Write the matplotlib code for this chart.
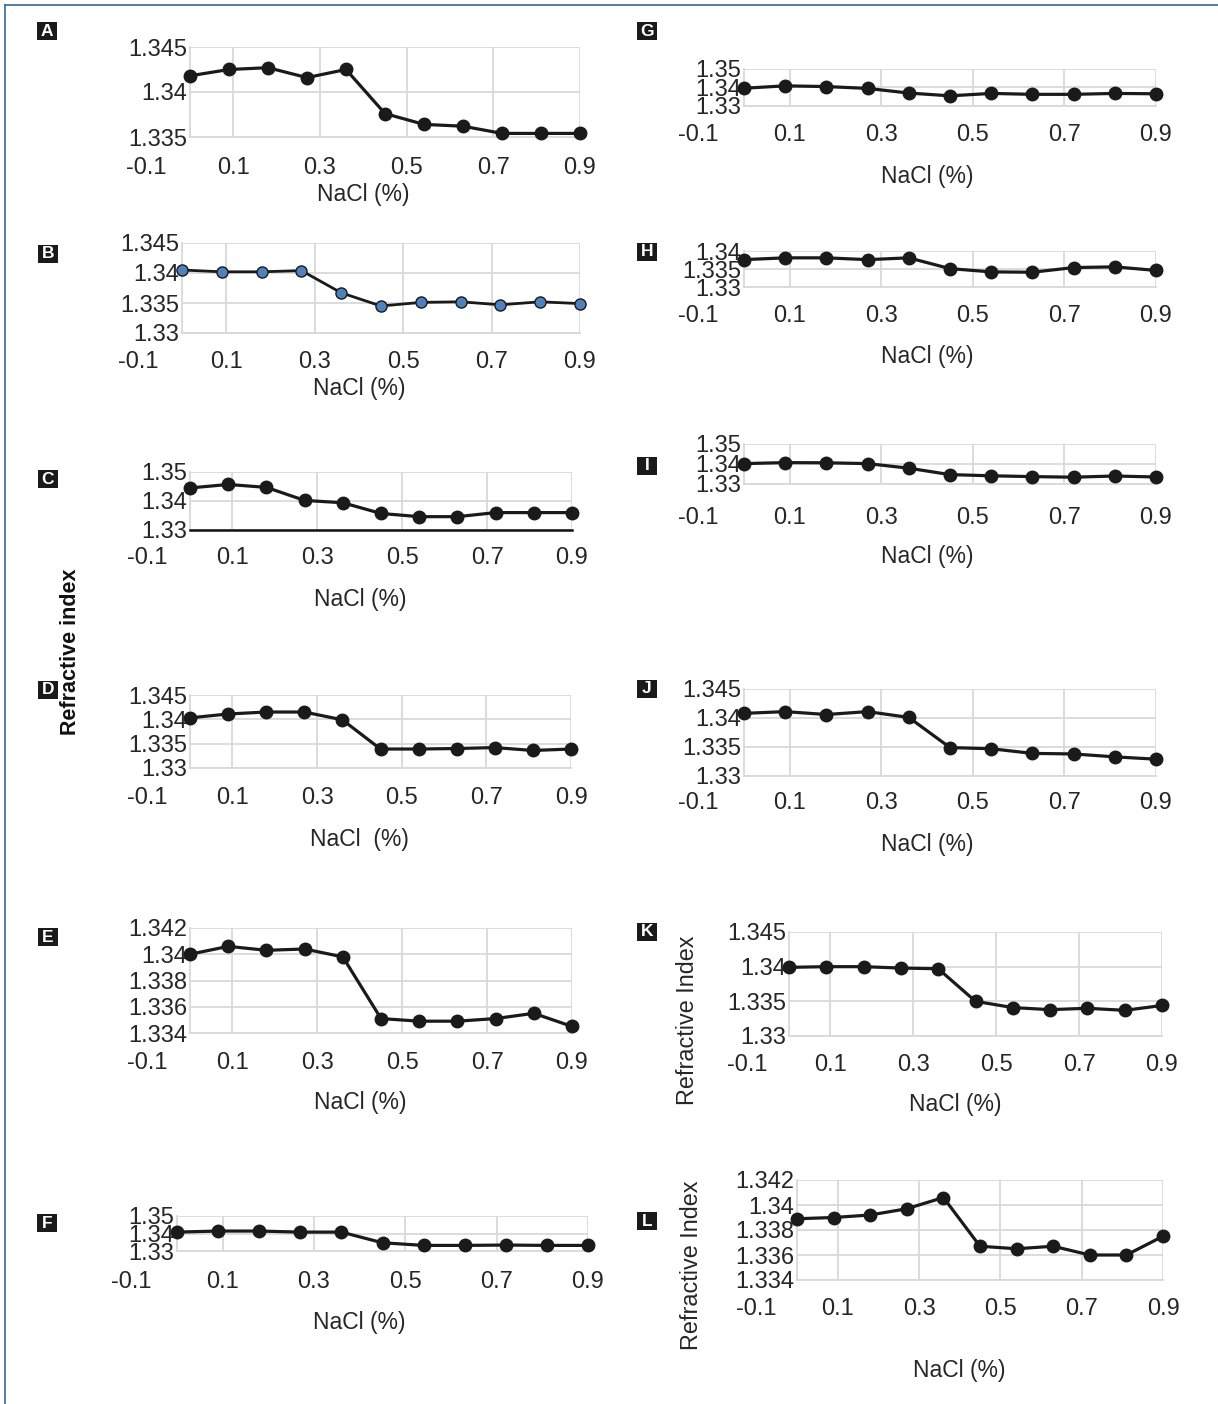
"""
Refractive index vs NaCl concentration, twelve small Excel-style panels (A-L).
"""
import matplotlib
matplotlib.use("Agg")
import numpy as np
import matplotlib.pyplot as plt
from matplotlib.lines import Line2D
from matplotlib.patches import Rectangle

plt.rcParams['font.family'] = ['Liberation Sans', 'DejaVu Sans']

W, H = 1218, 1404

# data
nacl = [0, 0.09, 0.18, 0.27, 0.36, 0.45, 0.54, 0.63, 0.72, 0.81, 0.9]
xtick_values = [-0.1, 0.1, 0.3, 0.5, 0.7, 0.9]

ri_A = [1.3418, 1.3425, 1.3427, 1.3416, 1.3425, 1.3376, 1.3364, 1.3362, 1.3354, 1.3354, 1.3354]
ri_B = [1.3405, 1.3402, 1.3402, 1.3404, 1.3367, 1.3345, 1.3351, 1.3352, 1.3347, 1.3352, 1.3349]
ri_C = [1.3445, 1.3457, 1.3447, 1.3402, 1.3394, 1.3357, 1.3346, 1.3346, 1.3360, 1.3360, 1.3360]
ri_D = [1.3403, 1.3411, 1.3415, 1.3415, 1.3399, 1.3339, 1.3339, 1.3340, 1.3342, 1.3336, 1.3339]
ri_E = [1.3400, 1.3406, 1.3403, 1.3404, 1.3398, 1.3351, 1.3349, 1.3349, 1.3351, 1.3355, 1.3345]
ri_F = [1.3408, 1.3414, 1.3414, 1.3408, 1.3408, 1.3347, 1.3332, 1.3332, 1.3334, 1.3332, 1.3332]
ri_G = [1.3396, 1.3409, 1.3405, 1.3395, 1.3370, 1.3355, 1.3368, 1.3363, 1.3363, 1.3368, 1.3366]
ri_H = [1.3376, 1.3381, 1.3381, 1.3376, 1.3381, 1.3351, 1.3342, 1.3341, 1.3354, 1.3356, 1.3346]
ri_I = [1.3402, 1.3407, 1.3406, 1.3402, 1.3379, 1.3347, 1.3341, 1.3337, 1.3334, 1.3340, 1.3335]
ri_J = [1.3408, 1.3411, 1.3406, 1.3411, 1.3401, 1.3349, 1.3347, 1.3339, 1.3338, 1.3333, 1.3329]
ri_K = [1.3399, 1.3400, 1.3400, 1.3398, 1.3397, 1.3350, 1.3341, 1.3338, 1.3340, 1.3337, 1.3344]
ri_L = [1.3389, 1.3390, 1.3392, 1.3397, 1.3406, 1.3367, 1.3365, 1.3367, 1.3360, 1.3360, 1.3375]

# y ranges (min, max, step) for each panel
yrange = {
    'A': (1.335, 1.345, 0.005), 'B': (1.33, 1.345, 0.005), 'C': (1.33, 1.35, 0.01),
    'D': (1.33, 1.345, 0.005), 'E': (1.334, 1.342, 0.002), 'F': (1.33, 1.35, 0.01),
    'G': (1.33, 1.35, 0.01), 'H': (1.33, 1.34, 0.005), 'I': (1.33, 1.35, 0.01),
    'J': (1.33, 1.345, 0.005), 'K': (1.33, 1.345, 0.005), 'L': (1.334, 1.342, 0.002),
}
series = {'A': ri_A, 'B': ri_B, 'C': ri_C, 'D': ri_D, 'E': ri_E, 'F': ri_F,
          'G': ri_G, 'H': ri_H, 'I': ri_I, 'J': ri_J, 'K': ri_K, 'L': ri_L}
xlabels = {k: "NaCl (%)" for k in series}
xlabels['D'] = "NaCl  (%)"

# layout in pixels: plot left, right, top, bottom, tick label y, x label y, letter box (x, y)
layout = {
    'A': (190, 580, 47, 137, 168, 195, (47, 31)),
    'B': (182, 580, 243, 333, 362, 389, (48, 254)),
    'C': (190, 572, 472, 530, 558, 600, (48, 479)),
    'D': (190, 571, 695, 768, 798, 839, (48, 690)),
    'E': (190, 572, 928, 1033, 1063, 1102, (48, 937)),
    'F': (177, 588, 1216, 1251, 1282, 1322, (47, 1223)),
    'G': (744, 1156, 69, 106, 135, 176, (647, 31)),
    'H': (744, 1156, 251, 287, 316, 357, (647, 252)),
    'I': (744, 1156, 444, 484, 518, 557, (647, 466)),
    'J': (744, 1156, 689, 776, 803, 845, (647, 689)),
    'K': (789, 1162, 932, 1036, 1065, 1105, (647, 932)),
    'L': (797, 1163, 1180, 1280, 1309, 1370, (647, 1221)),
}

FS_TICK = 17
FS_LAB = 16.5
GRID = '#d9d9d9'
LINE = '#1a1a1a'
TXT = '#262626'


def fmt(v):
    return ("%.3f" % v).rstrip('0')


fig = plt.figure(figsize=(W / 100, H / 100), dpi=100)

for key, ri in series.items():
    l, r, t, b, tick_y, lab_y, box = layout[key]
    lo, hi, step = yrange[key]
    ax = fig.add_axes([l / W, 1 - b / H, (r - l) / W, (b - t) / H])

    if key == 'B':
        ax.plot(nacl, ri, color=LINE, lw=2.0, marker='o', ms=8,
                mfc='#4f81bd', mec='#1a1a1a', mew=1.0, clip_on=False, zorder=3)
    else:
        ax.plot(nacl, ri, color=LINE, lw=2.3, marker='o', ms=9,
                mfc=LINE, mec=LINE, clip_on=False, zorder=3)

    ax.set_xlim(0, 0.9)
    ax.set_ylim(lo, hi)
    yticks = np.linspace(lo, hi, int(round((hi - lo) / step)) + 1)
    ax.set_yticks(yticks)
    ax.set_yticklabels([fmt(v) for v in yticks])
    ax.set_xticks([0.1, 0.3, 0.5, 0.7, 0.9])
    ax.set_xticklabels([])
    ax.tick_params(axis='both', length=0)
    ax.tick_params(axis='y', pad=2, labelsize=FS_TICK, colors=TXT)
    ax.grid(True, color=GRID, lw=1.3, zorder=0)
    ax.set_axisbelow(True)
    for side in ['top', 'right']:
        ax.spines[side].set_visible(False)
    ax.spines['left'].set_color(GRID)
    ax.spines['left'].set_linewidth(1.3)
    if key == 'C':
        ax.spines['bottom'].set_color('#111111')
        ax.spines['bottom'].set_linewidth(1.8)
    else:
        ax.spines['bottom'].set_color(GRID)
        ax.spines['bottom'].set_linewidth(1.3)

    # x tick labels, including the -0.1 that sits left of the plot area
    for v in xtick_values:
        ax.annotate("%g" % v, xy=(v, 0), xycoords=('data', 'axes fraction'),
                    xytext=(0, -(tick_y - b)), textcoords='offset pixels',
                    ha='center', va='center', fontsize=FS_TICK, color=TXT,
                    annotation_clip=False)
    ax.annotate(xlabels[key], xy=(0.4, 0), xycoords=('data', 'axes fraction'),
                xytext=(0, -(lab_y - b)), textcoords='offset pixels',
                ha='center', va='center', fontsize=FS_LAB, color=TXT,
                annotation_clip=False)

    # panel letter in a black square
    bx, by = box
    fig.add_artist(Rectangle(((bx - 10) / W, 1 - (by + 9) / H), 20 / W, 18 / H,
                             transform=fig.transFigure, facecolor='#1a1a1a',
                             edgecolor='none'))
    fig.text(bx / W, 1 - by / H, key, color='white', fontweight='bold',
             fontsize=12.5, ha='center', va='center')

# per-panel y labels on K and L
fig.text(688 / W, 1 - 1020 / H, "Refractive Index", rotation=90, fontsize=FS_LAB + 0.3,
         ha='center', va='center', color=TXT)
fig.text(692 / W, 1 - 1265 / H, "Refractive Index", rotation=90, fontsize=FS_LAB + 0.3,
         ha='center', va='center', color=TXT)

# shared y label for the left column
fig.text(70 / W, 1 - 652 / H, "Refractive index", rotation=90, fontsize=15.5,
         fontweight='bold', ha='center', va='center', color='#111111')

# frame lines on the left and top edges
frame = '#46739c'
fig.add_artist(Line2D([5 / W, 5 / W], [0, 1 - 5 / H], color=frame, lw=1.3,
                      transform=fig.transFigure))
fig.add_artist(Line2D([5 / W, 1], [1 - 5 / H, 1 - 5 / H], color=frame, lw=1.3,
                      transform=fig.transFigure))

fig.savefig("out.png", dpi=100, facecolor='white')
